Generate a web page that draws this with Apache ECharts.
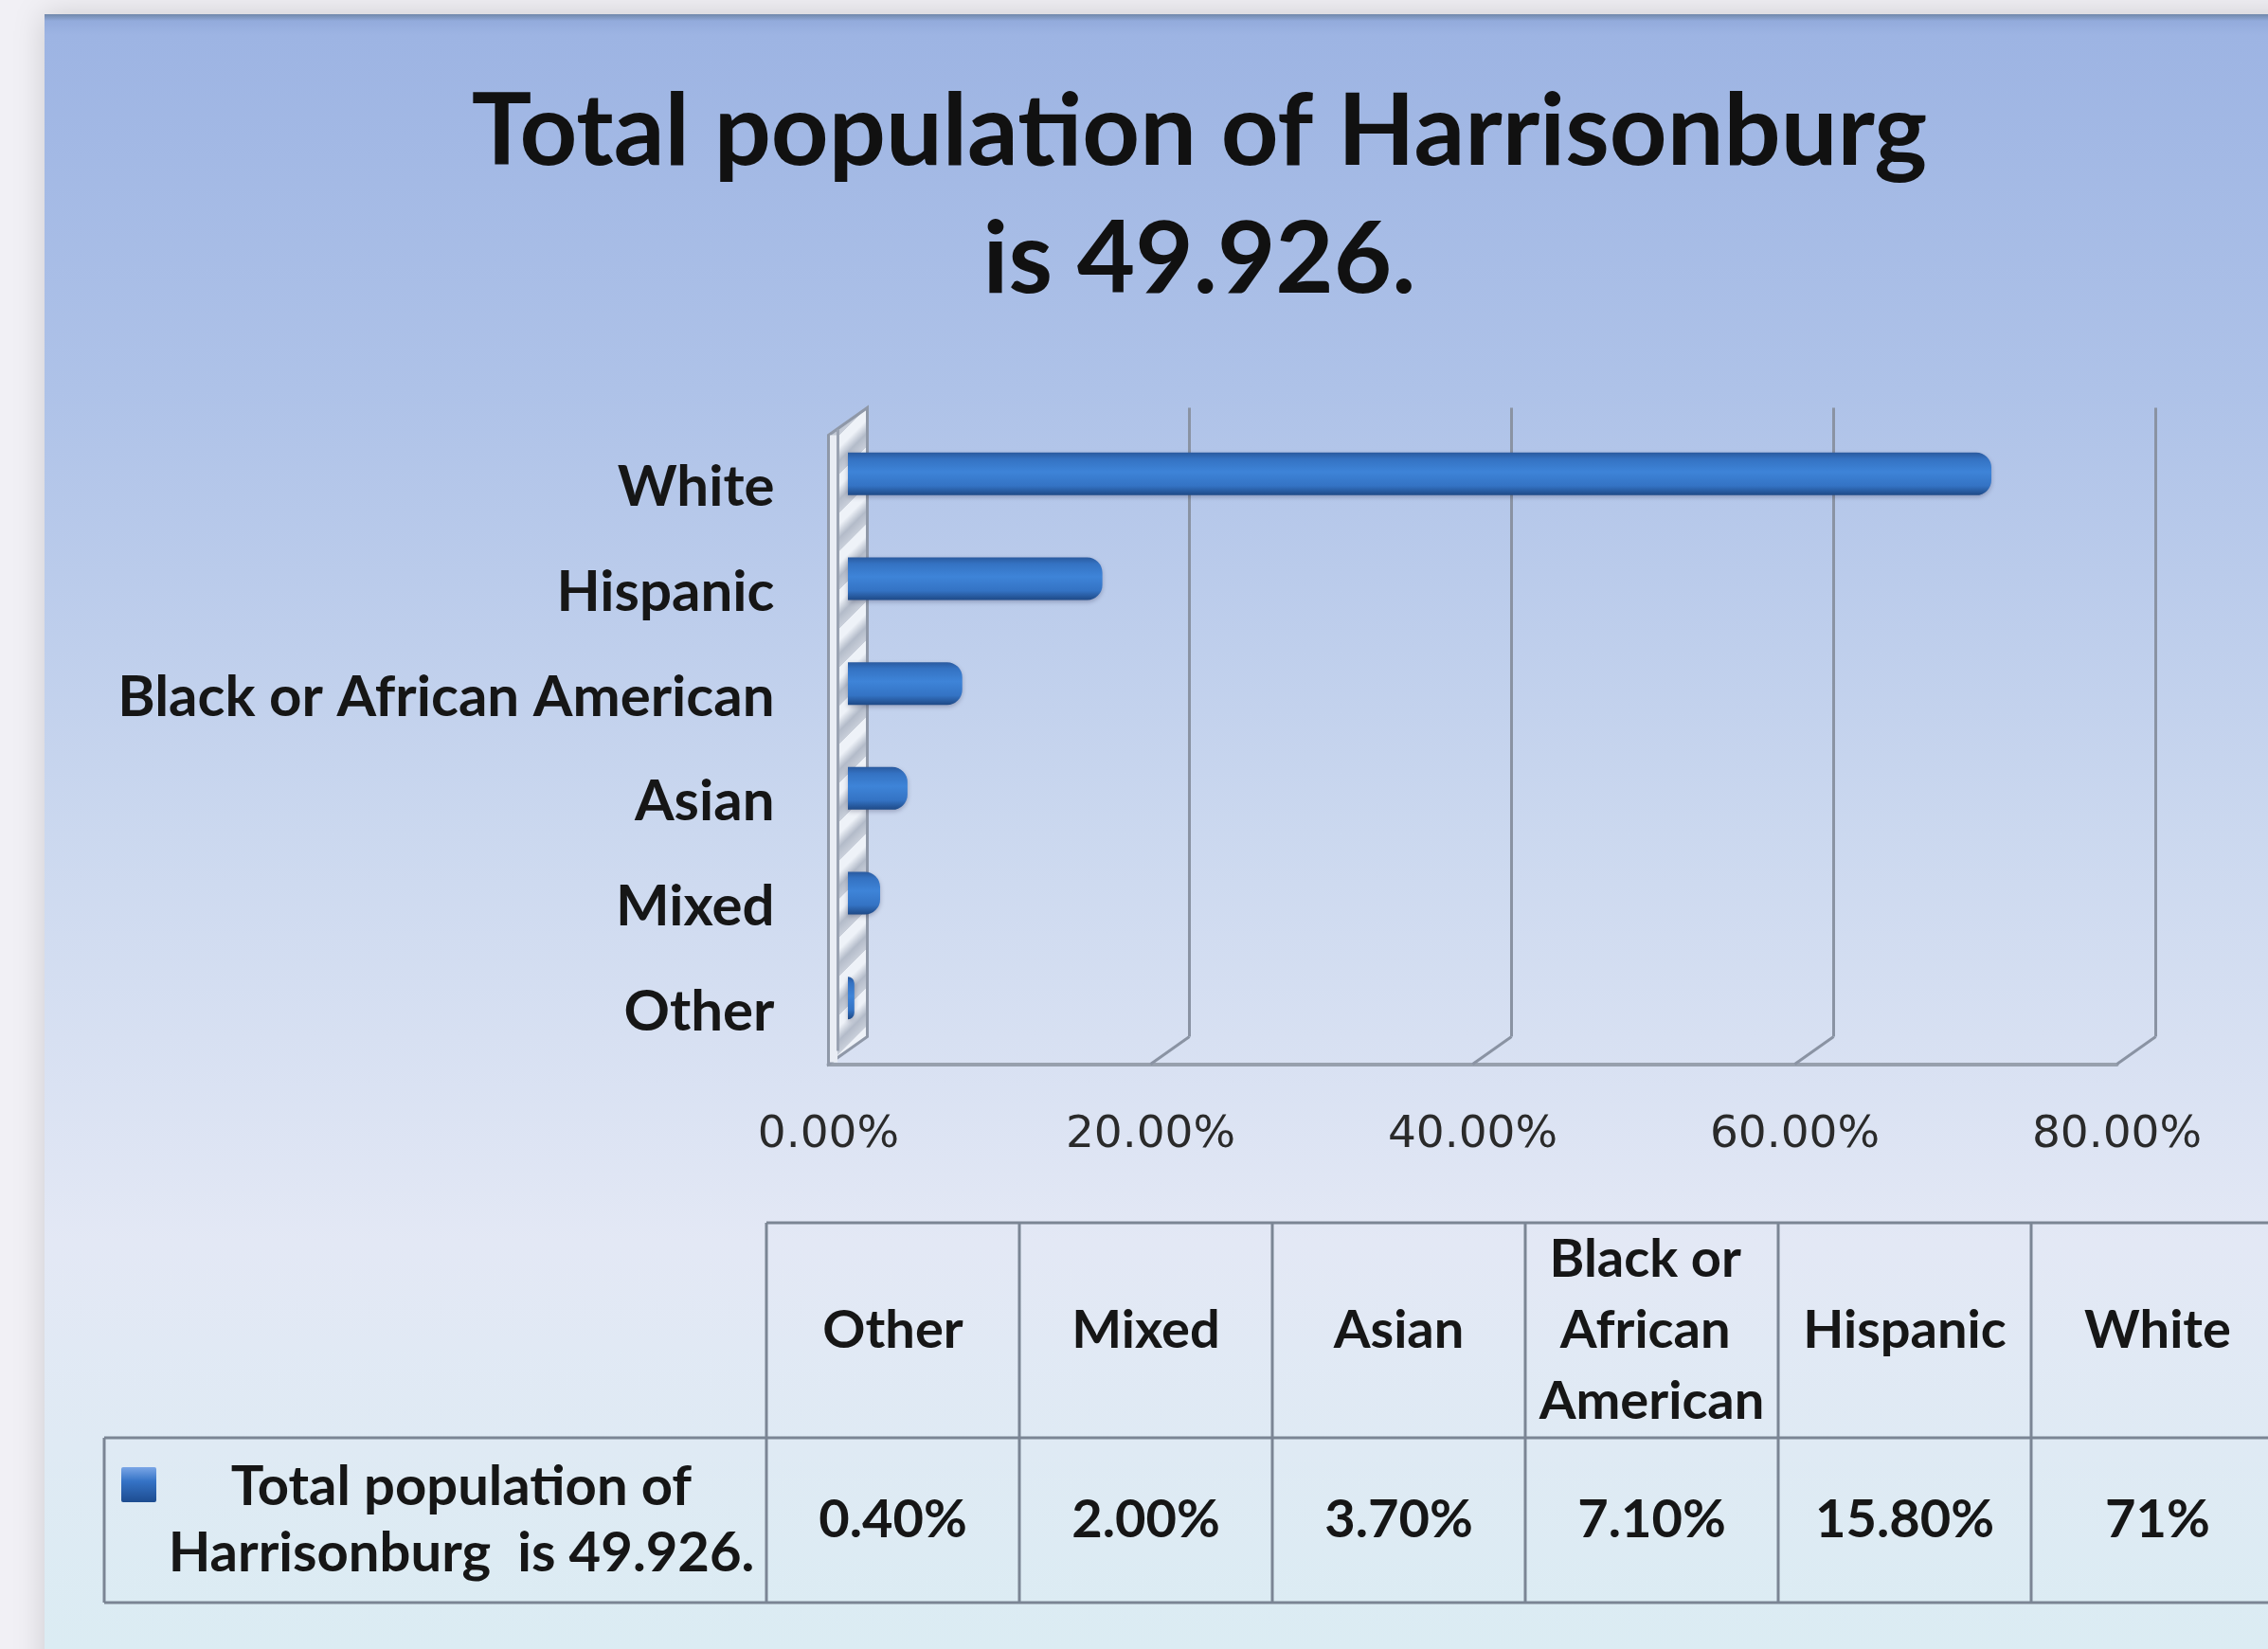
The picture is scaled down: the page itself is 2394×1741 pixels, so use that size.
<!DOCTYPE html>
<html><head><meta charset="utf-8">
<script src="https://cdn.jsdelivr.net/npm/echarts@6/dist/echarts.min.js"></script>
<style>html,body{margin:0;padding:0;background:#f1f0f5;overflow:hidden}#chart{width:2394px;height:1741px;}</style>
</head><body><div id="chart"></div>
<script>
// ---- data ----
const categories = ['Other', 'Mixed', 'Asian', 'Black or African American', 'Hispanic', 'White'];
const values = [0.4, 2.0, 3.7, 7.1, 15.8, 71];
const valueLabels = ['0.40%', '2.00%', '3.70%', '7.10%', '15.80%', '71%'];
const titleLines = ['Total population of Harrisonburg', 'is 49.926.'];
const seriesLabelLines = ['Total population of', 'Harrisonburg  is 49.926.'];
const axisMin = 0, axisMax = 80, axisStep = 20;

// ---- layout / style ----
const FONT = 'Lato, "Open Sans", sans-serif';
const TXT = '#161616';
const LINE = '#8a93a3';
const mid = { left: 895, top: 445, width: 1360, height: 664 };
const dx = 20.5, dy = 14.5;   // half depth of the 3D box

const chart = echarts.init(document.getElementById('chart'), null, { renderer: 'canvas' });

const barGradient = new echarts.graphic.LinearGradient(0, 0, 0, 1, [
  { offset: 0, color: '#2a5a9f' },
  { offset: 0.15, color: '#3472c2' },
  { offset: 0.45, color: '#3e84d8' },
  { offset: 0.78, color: '#3473c4' },
  { offset: 1, color: '#1e4986' }
]);

const valueAxisBase = { type: 'value', min: axisMin, max: axisMax, interval: axisStep };

const option = {
  animation: false,
  backgroundColor: '#f1f0f5',
  grid: [
    { left: mid.left, top: mid.top, width: mid.width, height: mid.height },
    { left: mid.left + dx, top: mid.top - dy, width: mid.width, height: mid.height },
    { left: mid.left - dx, top: mid.top + dy, width: mid.width, height: mid.height }
  ],
  xAxis: [
    Object.assign({ gridIndex: 0, show: false }, valueAxisBase),
    Object.assign({ gridIndex: 1,
      axisLine: { show: false }, axisTick: { show: false }, axisLabel: { show: false },
      splitLine: { show: true, lineStyle: { color: LINE, width: 3 } } }, valueAxisBase),
    Object.assign({ gridIndex: 2,
      axisLine: { show: true, lineStyle: { color: '#97a0ad', width: 4 } },
      axisTick: { show: false }, splitLine: { show: false },
      axisLabel: { formatter: v => v.toFixed(2) + '%', fontFamily: '"DejaVu Sans", sans-serif',
        fontSize: 47, color: '#2a2a2a', margin: 52 } }, valueAxisBase)
  ],
  yAxis: [
    { gridIndex: 0, type: 'category', data: categories, show: false },
    { gridIndex: 1, type: 'category', data: categories, show: false },
    { gridIndex: 2, type: 'category', data: categories,
      axisLine: { show: false }, axisTick: { show: false }, splitLine: { show: false },
      axisLabel: { fontFamily: FONT, fontWeight: 'bold', fontSize: 60, color: TXT, margin: 57 } }
  ],
  series: [{
    type: 'bar', name: titleLines.join(' '), xAxisIndex: 0, yAxisIndex: 0,
    data: values, barWidth: 45, z: 5,
    itemStyle: { color: barGradient, borderRadius: [0, 16, 16, 0],
      shadowBlur: 5, shadowColor: 'rgba(0,0,40,0.25)', shadowOffsetY: 2 }
  }]
};
chart.setOption(option);

// ---- decorations computed from the axes ----
const fx = v => chart.convertToPixel({ xAxisIndex: 2 }, v);
const bxp = v => chart.convertToPixel({ xAxisIndex: 1 }, v);
const frontTop = mid.top + dy, frontBottom = mid.top + dy + mid.height;
const backTop = mid.top - dy, backBottom = mid.top - dy + mid.height;

const g = [];
// chart background
g.push({ type: 'rect', z: -100, silent: true,
  shape: { x: 47, y: 15, width: 2500, height: 1800 },
  style: { fill: new echarts.graphic.LinearGradient(0, 0, 0, 1, [
      { offset: 0, color: '#6f87aa' },
      { offset: 0.004, color: '#93abdc' },
      { offset: 0.012, color: '#9db4e3' },
      { offset: 0.22, color: '#aec2e8' },
      { offset: 0.48, color: '#cbd8ef' },
      { offset: 0.72, color: '#e3e8f5' },
      { offset: 0.96, color: '#dbecf3' },
      { offset: 1, color: '#dbecf3' }]),
    shadowBlur: 30, shadowColor: 'rgba(0,0,0,0.16)' } });

// title
g.push({ type: 'text', x: 1266, y: 207, z: 10,
  style: { text: titleLines.join('\n'), fill: '#111', fontFamily: FONT, fontWeight: 'bold',
    fontSize: 106, lineHeight: 135, align: 'center', verticalAlign: 'middle' } });

// floor diagonals for each tick
for (let v = axisMin + axisStep; v <= axisMax; v += axisStep) {
  g.push({ type: 'line', z: 1, silent: true,
    shape: { x1: bxp(v), y1: backBottom, x2: fx(v), y2: frontBottom },
    style: { stroke: LINE, lineWidth: 3 } });
}
// left wall (striped)
const x0f = fx(axisMin), x0b = bxp(axisMin);
const stripeStops = [];
const N = 18;
for (let i = 0; i < N; i++) {
  const a = i / N, m = (i + 0.5) / N, e = (i + 1) / N;
  stripeStops.push({ offset: a, color: '#eef2f8' });
  stripeStops.push({ offset: a + (m - a) * 0.6, color: '#eef2f8' });
  stripeStops.push({ offset: m + (e - m) * 0.3, color: '#b3bbc9' });
  stripeStops.push({ offset: e - 0.0005, color: '#c9cfda' });
}
const L = (frontBottom - backTop + (x0b - x0f)) / 2;
g.push({ type: 'polygon', z: 2, silent: true,
  shape: { points: [[x0f, frontTop], [x0b, backTop], [x0b, backBottom], [x0f, frontBottom]] },
  style: { fill: new echarts.graphic.LinearGradient(x0f, backTop, x0f + L, backTop + L, stripeStops, true),
    stroke: '#8f98a8', lineWidth: 3 } });
g.push({ type: 'line', z: 3, silent: true,
  shape: { x1: x0f + 10, y1: frontTop - 6, x2: x0f + 10, y2: frontBottom - 14 },
  style: { stroke: '#9aa3b2', lineWidth: 3 } });
g.push({ type: 'rect', z: 2, silent: true,
  shape: { x: x0f + 1.5, y: frontTop, width: 8, height: frontBottom - frontTop - 2 },
  style: { fill: '#e9edf4' } });

// ---- data table ----
const tLeft = 809, colW = 267, tTop = 1291, tMid = 1518, tBot = 1692, rowLeft = 110;
const TL = { stroke: '#7b8594', lineWidth: 3 };
g.push({ type: 'line', z: 4, shape: { x1: tLeft, y1: tTop, x2: 2394, y2: tTop }, style: TL });
g.push({ type: 'line', z: 4, shape: { x1: rowLeft, y1: tMid, x2: 2394, y2: tMid }, style: TL });
g.push({ type: 'line', z: 4, shape: { x1: rowLeft, y1: tBot, x2: 2394, y2: tBot }, style: TL });
g.push({ type: 'line', z: 4, shape: { x1: rowLeft, y1: tMid, x2: rowLeft, y2: tBot }, style: TL });
for (let i = 0; i <= categories.length; i++) {
  const x = tLeft + i * colW;
  g.push({ type: 'line', z: 4, shape: { x1: x, y1: tTop, x2: x, y2: tBot }, style: TL });
}
categories.forEach((c, i) => {
  const cx = tLeft + i * colW + colW / 2;
  g.push({ type: 'text', z: 5, x: cx, y: (tTop + tMid) / 2,
    style: { text: c, width: colW - 10, overflow: 'break', fill: TXT, fontFamily: FONT,
      fontWeight: 'bold', fontSize: 56, lineHeight: 75, align: 'center', verticalAlign: 'middle' } });
  g.push({ type: 'text', z: 5, x: cx, y: (tMid + tBot) / 2,
    style: { text: valueLabels[i], fill: TXT, fontFamily: FONT, fontWeight: 'bold',
      fontSize: 56, align: 'center', verticalAlign: 'middle' } });
});
// legend key + series name
g.push({ type: 'rect', z: 5, shape: { x: 128, y: 1549, width: 37, height: 37, r: 2 },
  style: { fill: new echarts.graphic.LinearGradient(0, 0, 0, 1, [
    { offset: 0, color: '#7aa6e6' }, { offset: 0.4, color: '#3573c6' }, { offset: 1, color: '#1d4c90' }]) } });
g.push({ type: 'text', z: 5, x: 487, y: (tMid + tBot) / 2,
  style: { text: seriesLabelLines.join('\n'), fill: TXT, fontFamily: FONT, fontWeight: 'bold',
    fontSize: 58, lineHeight: 70, align: 'center', verticalAlign: 'middle' } });

chart.setOption({ graphic: { elements: g } });
</script>
</body></html>
